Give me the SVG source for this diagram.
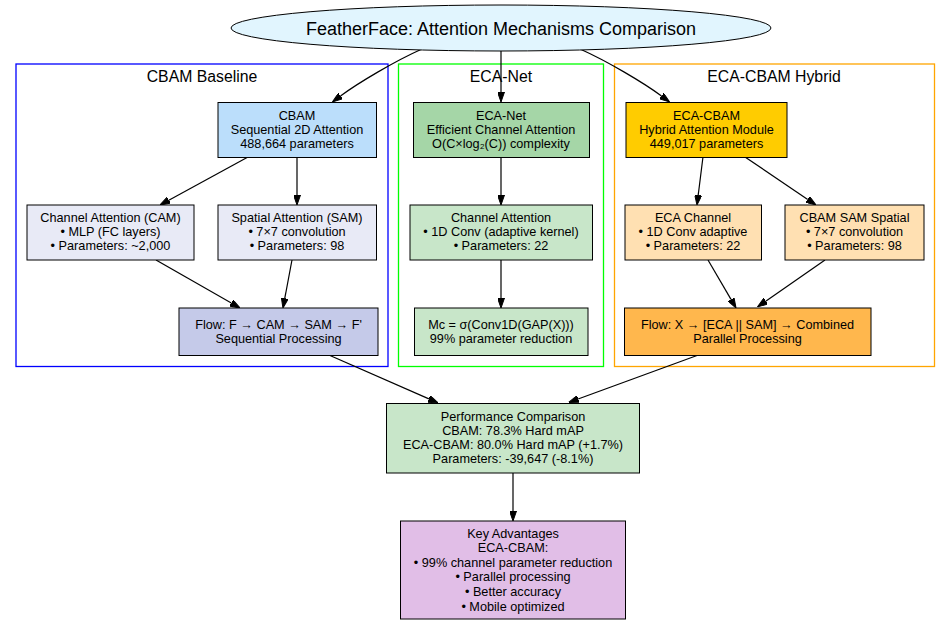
<svg xmlns="http://www.w3.org/2000/svg" width="951" height="625" viewBox="0 0 951 625">
<defs>
<marker id="ah" markerWidth="10" markerHeight="7" refX="0" refY="3.5" orient="auto" markerUnits="userSpaceOnUse">
<path d="M0,0 L10,3.5 L0,7 z" fill="#000" stroke="#000" stroke-width="1"/>
</marker>
<style>
text{font-family:"Liberation Sans",Arial,sans-serif;fill:#000;text-anchor:middle}
.n{font-size:12.7px}
.cl{font-size:15.8px}
.box{stroke:#000;stroke-width:1}
.clu{fill:none;stroke-width:1.3}
.e{fill:none;stroke:#000;stroke-width:1.2;marker-end:url(#ah)}
</style>
</defs>
<rect width="951" height="625" fill="#fff"/>

<g id="clusters">
<rect class="clu" x="16" y="64" width="372" height="302.5" stroke="#0000ff"/>
<text class="cl" x="202" y="82">CBAM Baseline</text>
<rect class="clu" x="398.5" y="64" width="205" height="302.5" stroke="#00ff00"/>
<text class="cl" x="501" y="82">ECA-Net</text>
<rect class="clu" x="614.5" y="64" width="320" height="302.5" stroke="#ffa500"/>
<text class="cl" x="774" y="82">ECA-CBAM Hybrid</text>
</g>

<g id="connectors">
<path class="e" d="M422,49 C395,61 358,83 340.5,96"/>
<path class="e" d="M501,51 L501,92"/>
<path class="e" d="M580,49 C607,61 644,83 661.5,96"/>
<path class="e" d="M248,157 L168.8,200.2"/>
<path class="e" d="M297,157 L297,195"/>
<path class="e" d="M156,260 L231.3,303"/>
<path class="e" d="M292,260 L284.8,298.2"/>
<path class="e" d="M501,157 L501,195"/>
<path class="e" d="M501,260 L501,298"/>
<path class="e" d="M703,157 L698.2,195.1"/>
<path class="e" d="M745,157 L807.7,199.4"/>
<path class="e" d="M708,260 L731,299.4"/>
<path class="e" d="M825,260 L765.7,301.2"/>
<path class="e" d="M330,355.5 L428.9,398.9"/>
<path class="e" d="M697,355.5 L578.1,399"/>
<path class="e" d="M513,473 L513,511"/>
</g>

<g id="title">
<ellipse class="box" cx="501" cy="28" rx="270" ry="23" fill="#e1f5fe"/>
<text x="501" y="34.5" font-size="18">FeatherFace: Attention Mechanisms Comparison</text>
</g>

<g id="cbam">
<rect class="box" x="218" y="102.5" width="158.5" height="55" fill="#bbdefb"/>
<text class="n" x="297" y="119.5">CBAM</text>
<text class="n" x="297" y="133.5">Sequential 2D Attention</text>
<text class="n" x="297" y="147.5">488,664 parameters</text>
</g>
<g id="cam">
<rect class="box" x="27" y="205" width="167" height="55" fill="#e8eaf6"/>
<text class="n" x="110.5" y="221.5">Channel Attention (CAM)</text>
<text class="n" x="110.5" y="235.5">• MLP (FC layers)</text>
<text class="n" x="110.5" y="249.5">• Parameters: ~2,000</text>
</g>
<g id="sam">
<rect class="box" x="218" y="205" width="158.5" height="55" fill="#e8eaf6"/>
<text class="n" x="297" y="221.5">Spatial Attention (SAM)</text>
<text class="n" x="297" y="235.5">• 7×7 convolution</text>
<text class="n" x="297" y="249.5">• Parameters: 98</text>
</g>
<g id="cbam_flow">
<rect class="box" x="179" y="308" width="199" height="47.5" fill="#c5cae9"/>
<text class="n" x="278.5" y="328.5">Flow: F → CAM → SAM → F'</text>
<text class="n" x="278.5" y="342.5">Sequential Processing</text>
</g>

<g id="eca">
<rect class="box" x="413.5" y="102.5" width="176" height="55" fill="#a5d6a7"/>
<text class="n" x="501" y="119.5">ECA-Net</text>
<text class="n" x="501" y="133.5">Efficient Channel Attention</text>
<text class="n" x="501" y="147.5">O(C×log₂(C)) complexity</text>
</g>
<g id="eca_channel">
<rect class="box" x="410" y="205" width="182.5" height="55" fill="#c8e6c9"/>
<text class="n" x="501" y="221.5">Channel Attention</text>
<text class="n" x="501" y="235.5">• 1D Conv (adaptive kernel)</text>
<text class="n" x="501" y="249.5">• Parameters: 22</text>
</g>
<g id="eca_formula">
<rect class="box" x="414.5" y="308" width="173.5" height="47.5" fill="#c8e6c9"/>
<text class="n" x="501" y="328.5">Mc = σ(Conv1D(GAP(X)))</text>
<text class="n" x="501" y="342.5">99% parameter reduction</text>
</g>

<g id="ecacbam">
<rect class="box" x="626" y="102.5" width="161" height="55" fill="#ffcc00"/>
<text class="n" x="706.5" y="119.5">ECA-CBAM</text>
<text class="n" x="706.5" y="133.5">Hybrid Attention Module</text>
<text class="n" x="706.5" y="147.5">449,017 parameters</text>
</g>
<g id="eca_ch">
<rect class="box" x="625" y="205" width="136.5" height="55" fill="#ffe0b2"/>
<text class="n" x="693" y="221.5">ECA Channel</text>
<text class="n" x="693" y="235.5">• 1D Conv adaptive</text>
<text class="n" x="693" y="249.5">• Parameters: 22</text>
</g>
<g id="cbam_sam">
<rect class="box" x="785" y="205" width="139" height="55" fill="#ffe0b2"/>
<text class="n" x="854.5" y="221.5">CBAM SAM Spatial</text>
<text class="n" x="854.5" y="235.5">• 7×7 convolution</text>
<text class="n" x="854.5" y="249.5">• Parameters: 98</text>
</g>
<g id="hybrid_flow">
<rect class="box" x="624.5" y="308" width="246.5" height="47.5" fill="#ffb74d"/>
<text class="n" x="747.5" y="328.5">Flow: X → [ECA || SAM] → Combined</text>
<text class="n" x="747.5" y="342.5">Parallel Processing</text>
</g>

<g id="perf">
<rect class="box" x="386.5" y="403.5" width="253" height="69.5" fill="#c8e6c9"/>
<text class="n" x="513" y="420.5">Performance Comparison</text>
<text class="n" x="513" y="434.5">CBAM: 78.3% Hard mAP</text>
<text class="n" x="513" y="448.5">ECA-CBAM: 80.0% Hard mAP (+1.7%)</text>
<text class="n" x="513" y="462.5">Parameters: -39,647 (-8.1%)</text>
</g>

<g id="advantages">
<rect class="box" x="400.5" y="521" width="225" height="98" fill="#e1bee7"/>
<text class="n" x="513" y="537.8">Key Advantages</text>
<text class="n" x="513" y="552.3">ECA-CBAM:</text>
<text class="n" x="513" y="566.9">• 99% channel parameter reduction</text>
<text class="n" x="513" y="581.4">• Parallel processing</text>
<text class="n" x="513" y="596">• Better accuracy</text>
<text class="n" x="513" y="610.5">• Mobile optimized</text>
</g>
</svg>
